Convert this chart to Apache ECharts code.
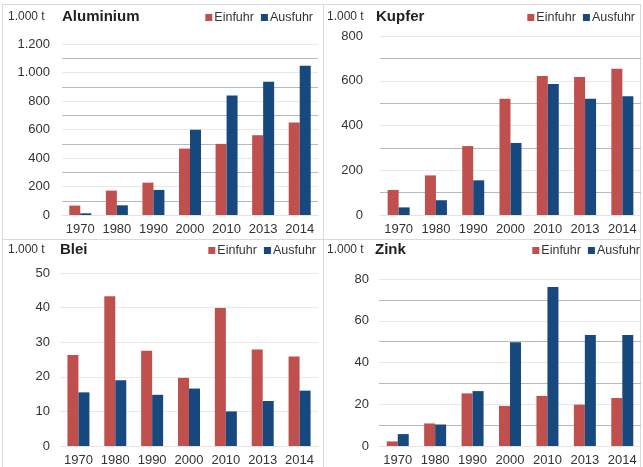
<!DOCTYPE html>
<html>
<head>
<meta charset="utf-8">
<script src="https://cdn.jsdelivr.net/npm/echarts@6/dist/echarts.min.js"></script>
<style>
  html, body { margin: 0; padding: 0; background: #fff; }
  #chart { width: 643px; height: 467px; }
</style>
</head>
<body>
<div id="chart"></div>
<script>
// Jahre
const years = ['1970', '1980', '1990', '2000', '2010', '2013', '2014'];

// Werte in 1.000 t
const aluEin = [66, 171, 227, 466, 499, 560, 649];
const aluAus = [12, 68, 176, 598, 839, 935, 1048];
const kupferEin = [112, 177, 308, 519, 621, 617, 654];
const kupferAus = [34, 66, 155, 322, 586, 519, 531];
const bleiEin = [26.3, 43.3, 27.5, 19.7, 39.9, 27.9, 25.9];
const bleiAus = [15.5, 19.0, 14.8, 16.6, 10.0, 13.0, 16.0];
const zinkEin = [2.2, 10.8, 25.2, 19.2, 24.0, 19.8, 23.0];
const zinkAus = [5.7, 10.3, 26.3, 49.7, 76.2, 53.2, 53.2];

const titles = ['Aluminium', 'Kupfer', 'Blei', 'Zink'];
const unit = '1.000 t';

const RED = '#c0504d';
const BLUE = '#17497f';
const FONT = 'Liberation Sans, Arial, sans-serif';

const chart = echarts.init(document.getElementById('chart'));

// Position je Panel
const panels = [
  { grid: { left: 62, top: 44, width: 256, height: 171 }, max: 1200, interval: 200, minor: true, labelMargin: 12,
    unitX: 8, unitY: 11, titleX: 62, titleY: 9, legendRight: 330, legendTop: 11, ein: aluEin, aus: aluAus },
  { grid: { left: 380, top: 36, width: 261, height: 179 }, max: 800, interval: 200, minor: true, labelMargin: 17,
    unitX: 327, unitY: 11, titleX: 376, titleY: 9, legendRight: 8, legendTop: 11, ein: kupferEin, aus: kupferAus },
  { grid: { left: 60, top: 273, width: 258, height: 174 }, max: 50, interval: 10, minor: false, labelMargin: 10,
    unitX: 8, unitY: 244, titleX: 60, titleY: 242, legendRight: 327, legendTop: 244, ein: bleiEin, aus: bleiAus },
  { grid: { left: 379, top: 279, width: 262, height: 168 }, max: 80, interval: 20, minor: true, labelMargin: 10,
    unitX: 327, unitY: 244, titleX: 375, titleY: 242, legendRight: 3, legendTop: 244, ein: zinkEin, aus: zinkAus },
];

const fmt = (v) => String(v).replace(/\B(?=(\d{3})+(?!\d))/g, '.');

const option = {
  backgroundColor: '#fff',
  animation: false,
  textStyle: { fontFamily: FONT },
  title: [],
  legend: [],
  grid: [],
  xAxis: [],
  yAxis: [],
  series: [],
  graphic: [
    { type: 'line', shape: { x1: 2, y1: 4.5, x2: 641, y2: 4.5 }, style: { stroke: '#d9d9d9', lineWidth: 1 } },
    { type: 'line', shape: { x1: 2.5, y1: 4, x2: 2.5, y2: 467 }, style: { stroke: '#d9d9d9', lineWidth: 1 } },
    { type: 'line', shape: { x1: 323.5, y1: 4, x2: 323.5, y2: 467 }, style: { stroke: '#d9d9d9', lineWidth: 1 } },
    { type: 'line', shape: { x1: 640.5, y1: 4, x2: 640.5, y2: 467 }, style: { stroke: '#d9d9d9', lineWidth: 1 } },
    { type: 'line', shape: { x1: 2, y1: 239.5, x2: 641, y2: 239.5 }, style: { stroke: '#d9d9d9', lineWidth: 1 } },
  ],
};

panels.forEach((p, i) => {
  option.title.push({
    text: unit, left: p.unitX, top: p.unitY, padding: 0,
    textStyle: { fontSize: 12, fontWeight: 'normal', color: '#333', fontFamily: FONT },
  });
  option.title.push({
    text: titles[i], left: p.titleX, top: p.titleY, padding: 0,
    textStyle: { fontSize: 15, fontWeight: 'bold', color: '#222', fontFamily: FONT },
  });
  option.legend.push({
    right: p.legendRight, top: p.legendTop, padding: 0,
    itemWidth: 7, itemHeight: 7, itemGap: 7, icon: 'rect',
    data: ['Einfuhr', 'Ausfuhr'],
    textStyle: { fontSize: 12.5, color: '#333', fontFamily: FONT, padding: [0, 0, 0, -3] },
  });
  option.grid.push(Object.assign({}, p.grid));
  option.xAxis.push({
    type: 'category', gridIndex: i, data: years,
    axisTick: { show: false },
    axisLine: { lineStyle: { color: '#e3e3e3' } },
    axisLabel: { color: '#333', fontSize: 13, margin: 8, interval: 0, fontFamily: FONT },
  });
  option.yAxis.push({
    type: 'value', gridIndex: i, min: 0, max: p.max, interval: p.interval,
    axisLine: { show: false }, axisTick: { show: false },
    axisLabel: { color: '#333', fontSize: 13, margin: p.labelMargin, fontFamily: FONT, formatter: fmt },
    splitLine: { lineStyle: { color: '#e8e8e8' } },
    minorTick: { show: false, splitNumber: 2 },
    minorSplitLine: { show: p.minor, lineStyle: { color: '#b4bac0' } },
  });
  option.series.push({
    name: 'Einfuhr', type: 'bar', xAxisIndex: i, yAxisIndex: i,
    barWidth: 11, barGap: '0%', itemStyle: { color: RED }, data: p.ein,
  });
  option.series.push({
    name: 'Ausfuhr', type: 'bar', xAxisIndex: i, yAxisIndex: i,
    barWidth: 11, barGap: '0%', itemStyle: { color: BLUE }, data: p.aus,
  });
});

chart.setOption(option);
</script>
</body>
</html>
